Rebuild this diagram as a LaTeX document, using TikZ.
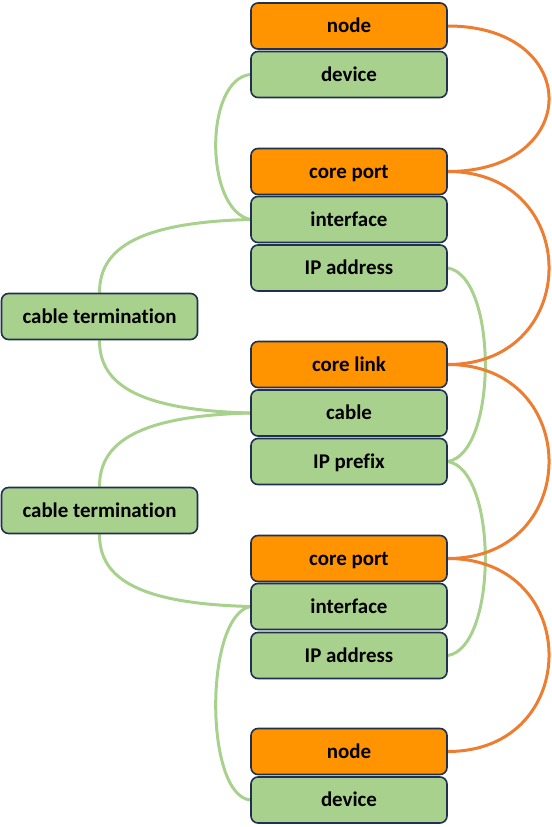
\documentclass[tikz,border=0pt]{standalone}
\usepackage{fontspec}
\setmainfont{Carlito}[Ligatures=NoCommon]
\usetikzlibrary{backgrounds}
\definecolor{orangefill}{HTML}{FF9300}
\definecolor{greenfill}{HTML}{A9D18E}
\definecolor{boxline}{HTML}{1F3050}
\definecolor{orangeline}{HTML}{ED7D31}
\definecolor{greenline}{HTML}{A9D18E}
\tikzset{
  box/.style={draw=boxline, line width=1.6bp, rounded corners=7bp, minimum width=196bp, minimum height=46bp, inner sep=0pt, text height=15bp, text depth=2bp, font=\fontsize{21}{25}\selectfont\bfseries},
  obox/.style={box, fill=orangefill},
  gbox/.style={box, fill=greenfill},
  gline/.style={draw=greenline, line width=3bp},
  oline/.style={draw=orangeline, line width=3bp}
}
\begin{document}
\begin{tikzpicture}[x=1bp,y=-1bp]
\useasboundingbox (0,0) rectangle (552,827);
% boxes
\node[obox] (n1) at (349,26) {node};
\node[gbox] (d1) at (349,74.5) {device};
\node[obox] (cp1) at (349,171.5) {core port};
\node[gbox] (if1) at (349,219.5) {interface};
\node[gbox] (ip1) at (349,268) {IP address};
\node[gbox] (ct1) at (99.5,316.5) {cable termination};
\node[obox] (cl) at (349,364.5) {core link};
\node[gbox] (cab) at (349,413) {cable};
\node[gbox] (pfx) at (349,461.5) {IP prefix};
\node[gbox] (ct2) at (99.5,510.5) {cable termination};
\node[obox] (cp2) at (349,558.5) {core port};
\node[gbox] (if2) at (349,606.5) {interface};
\node[gbox] (ip2) at (349,655.5) {IP address};
\node[obox] (n2) at (349,751.5) {node};
\node[gbox] (d2) at (349,800) {device};
% connectors
\begin{scope}[on background layer]
\path[gline] (d1.west) .. controls +(-46,5) and +(-46,-10) .. (if1.west);
\path[gline] (if1.west) .. controls +(-120,3) and +(0,-40) .. (ct1.north);
\path[gline] (ct1.south) .. controls +(0,40) and +(-120,-3) .. (cab.west);
\path[gline] (cab.west) .. controls +(-120,3) and +(0,-40) .. (ct2.north);
\path[gline] (ct2.south) .. controls +(0,40) and +(-120,-3) .. (if2.west);
\path[gline] (if2.west) .. controls +(-46,10) and +(-46,-5) .. (d2.west);
\path[gline] (ip1.east) .. controls +(50,8) and +(50,-8) .. (pfx.east);
\path[gline] (pfx.east) .. controls +(50,8) and +(50,-8) .. (ip2.east);
\path[oline] (n1.east) .. controls +(135,0) and +(135,0) .. (cp1.east);
\path[oline] (cp1.east) .. controls +(135,0) and +(135,0) .. (cl.east);
\path[oline] (cl.east) .. controls +(135,0) and +(135,0) .. (cp2.east);
\path[oline] (cp2.east) .. controls +(135,0) and +(135,0) .. (n2.east);
\end{scope}
\end{tikzpicture}
\end{document}
